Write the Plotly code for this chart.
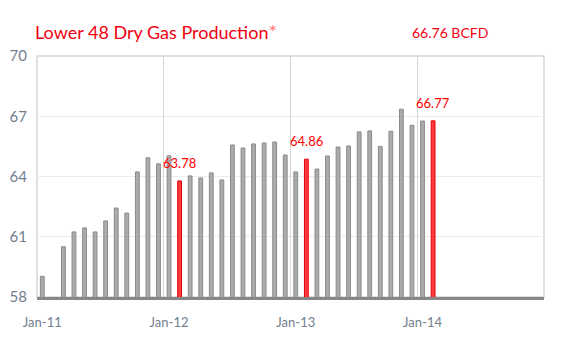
import plotly.graph_objects as go

# Monthly Lower 48 dry gas production, BCFD (Jan-11 .. Feb-14)
months = [f"{m}-{y}" for y in ("11", "12", "13", "14")
          for m in ("Jan", "Feb", "Mar", "Apr", "May", "Jun",
                    "Jul", "Aug", "Sep", "Oct", "Nov", "Dec")]
production = [
    59.03, 57.90, 60.50, 61.24, 61.44, 61.24, 61.79, 62.43, 62.18, 64.23, 64.93, 64.63,
    65.03, 63.78, 64.03, 63.93, 64.18, 63.83, 65.57, 65.42, 65.62, 65.67, 65.72, 65.07,
    64.23, 64.86, 64.37, 65.02, 65.47, 65.52, 66.22, 66.27, 65.50, 66.25, 67.35, 66.55,
    66.76, 66.77,
]
highlight_month = "Feb"
labelled = ["Feb-12", "Feb-13", "Feb-14"]
y_ticks = [58, 61, 64, 67, 70]
x_ticks = ["Jan-11", "Jan-12", "Jan-13", "Jan-14"]
latest_text = "66.76 BCFD"

x_vals = months[:len(production)]
is_hi = [m.startswith(highlight_month) for m in x_vals]
fills = ["#ff3b3b" if h else "#ababab" for h in is_hi]
edges = ["#e8000b" if h else "#8a8a8a" for h in is_hi]

RED = "#f2000f"
AXIS_TXT = "#727e8e"
FONT = "Lato"

W, H = 569, 341
ML, MR, MT, MB = 37, 25, 56, 44
PW, PH = W - ML - MR, H - MT - MB

n = len(months)
# year separators sit on the boundary before each January
year_bounds = [i - 0.5 for i, m in enumerate(months) if m.startswith("Jan") and i > 0]

fig = go.Figure()
# carrier for the numeric overlay axis that draws the year separators
fig.add_trace(go.Scatter(
    x=[-0.5, n - 0.5], y=[None, None], xaxis="x2", yaxis="y",
    mode="lines", hoverinfo="skip", showlegend=False,
))
fig.add_trace(go.Bar(
    x=x_vals, y=production,
    marker=dict(color=fills, line=dict(color=edges, width=1)),
    width=0.36, hoverinfo="x+y",
))

annotations = []
for xv, yv in zip(x_vals, production):
    if xv in labelled:
        annotations.append(dict(
            x=xv, y=yv, xref="x", yref="y", text=f"{yv:.2f}",
            showarrow=False, yanchor="bottom", xanchor="center", yshift=8,
            font=dict(family=FONT, size=13, color="#ff0000"),
        ))
# latest value, top right (pixel position converted to plot-area fractions)
annotations.append(dict(
    x=(490 - ML) / PW, y=(H - MB - 33) / PH, xref="paper", yref="paper",
    xanchor="right", yanchor="middle", text=latest_text, showarrow=False,
    font=dict(family=FONT, size=14, color=RED),
))

fig.update_layout(
    width=W, height=H,
    margin=dict(l=ML, r=MR, t=MT, b=MB, autoexpand=False),
    paper_bgcolor="white", plot_bgcolor="white",
    showlegend=False,
    title=dict(
        text="Lower 48 Dry Gas Production<span style='color:#ff7a7a;font-size:20px'>*</span>",
        x=35 / W, xanchor="left", xref="container",
        y=1 - 33 / H, yanchor="middle", yref="container",
        font=dict(family=FONT, size=18, color=RED),
    ),
    xaxis=dict(
        type="category", categoryorder="array", categoryarray=months,
        range=[-0.5, n - 0.5],
        tickmode="array", tickvals=x_ticks, ticktext=x_ticks, tickangle=0,
        ticks="", ticklabelstandoff=12, showgrid=False,
        showline=True, linecolor="#878787", linewidth=2.5,
        tickfont=dict(family=FONT, size=13, color=AXIS_TXT),
        fixedrange=True, layer="above traces",
    ),
    xaxis2=dict(
        type="linear", overlaying="x", side="bottom", range=[-0.5, n - 0.5],
        tickmode="array", tickvals=year_bounds, showticklabels=False, ticks="",
        showgrid=True, gridcolor="#d6d6d6", gridwidth=1,
        showline=False, zeroline=False, fixedrange=True,
    ),
    yaxis=dict(
        range=[58, 70], tickvals=y_ticks, ticks="",
        ticklabelstandoff=9,
        showgrid=True, gridcolor="#ececec", gridwidth=1,
        zeroline=False, showline=False,
        tickfont=dict(family=FONT, size=15, color=AXIS_TXT),
        fixedrange=True,
    ),
    shapes=[dict(
        type="rect", xref="paper", yref="paper", x0=0, x1=1, y0=0, y1=1,
        line=dict(color="#d6d6d6", width=1.5), layer="below",
    )],
    annotations=annotations,
)

fig.write_html("out.html")
